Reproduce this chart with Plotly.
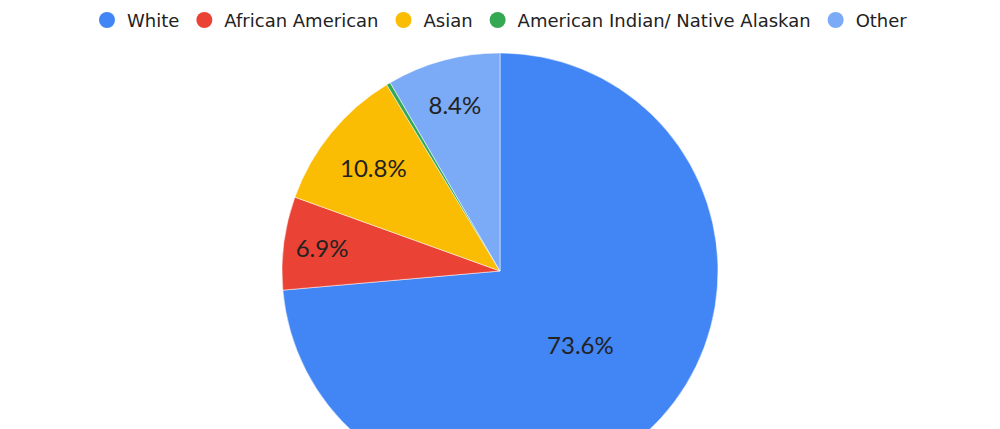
import plotly.graph_objects as go

categories = ["White", "African American", "Asian", "American Indian/ Native Alaskan", "Other"]
values = [73.6, 6.9, 10.8, 0.3, 8.4]
colors = ["#4285F4", "#EA4335", "#FBBC04", "#34A853", "#7BAAF7"]
label_templates = ["%{percent:.1%}", "%{percent:.1%}", "%{percent:.1%}", "", "%{percent:.1%}"]

fig = go.Figure()
fig.add_trace(
    go.Pie(
        labels=categories,
        values=values,
        sort=False,
        direction="clockwise",
        rotation=0,
        marker=dict(colors=colors, line=dict(color="white", width=0.5)),
        texttemplate=label_templates,
        textposition="inside",
        insidetextorientation="horizontal",
        textfont=dict(family="Lato, sans-serif", size=24, color="#222222"),
        hoverinfo="label+percent",
        domain=dict(x=[0, 1], y=[0, 1]),
        showlegend=False,
    )
)

# circle legend entries
for name, col in zip(categories, colors):
    fig.add_trace(
        go.Scatter(
            x=[None], y=[None], mode="markers", name=name,
            marker=dict(symbol="circle", size=18, color=col),
            showlegend=True, hoverinfo="skip",
        )
    )

fig.update_layout(
    width=1000,
    height=489,
    margin=dict(l=0, r=0, t=53, b=0),
    paper_bgcolor="white",
    plot_bgcolor="white",
    xaxis=dict(visible=False),
    yaxis=dict(visible=False),
    showlegend=True,
    legend=dict(
        orientation="h",
        x=0.5,
        xanchor="center",
        y=1.075,
        yanchor="middle",
        font=dict(family="DejaVu Sans, sans-serif", size=18, color="#222222"),
        itemwidth=30,
        traceorder="normal",
    ),
)

fig.write_html(
    "out.html",
    config={"displayModeBar": False},
    post_script="document.body.style.margin='0';document.body.style.overflow='hidden';",
)
